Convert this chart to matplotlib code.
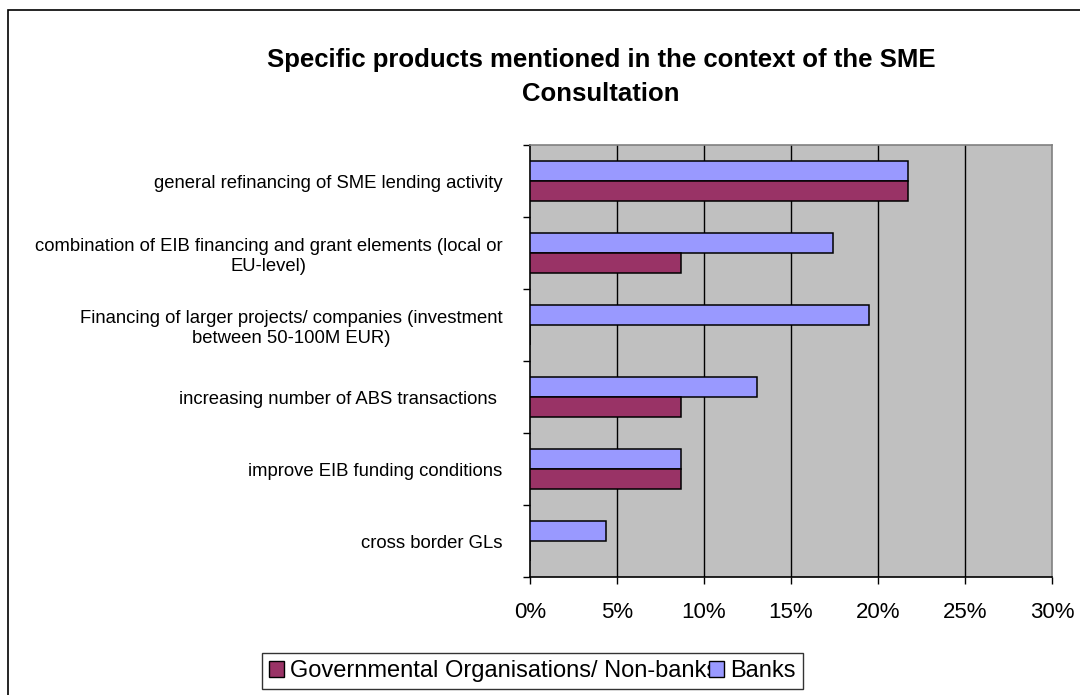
import matplotlib.pyplot as plt
from matplotlib.patches import Rectangle, Patch

plt.rcParams['font.family'] = ['Liberation Sans', 'DejaVu Sans']

# Survey answers, share of respondents per product (top to bottom)
products = [
    "general refinancing of SME lending activity",
    "combination of EIB financing and grant elements (local or\nEU-level)",
    "Financing of larger projects/ companies (investment\nbetween 50-100M EUR)",
    "increasing number of ABS transactions ",
    "improve EIB funding conditions",
    "cross border GLs",
]
banks = [21.74, 17.39, 19.5, 13.04, 8.70, 4.35]
gov_nonbanks = [21.74, 8.70, 0.0, 8.70, 8.70, 0.0]
x_ticks = [0, 5, 10, 15, 20, 25, 30]

banks_color = '#9999FF'
gov_color = '#993366'

fig = plt.figure(figsize=(10.8, 6.95), dpi=100)
ax = fig.add_axes([530 / 1080, 1 - 577 / 695, 522 / 1080, 432 / 695])
ax.set_facecolor('#C0C0C0')

n = len(products)
ypos = [n - 1 - i for i in range(n)]
h = 20 / 72

ax.barh([y + h / 2 for y in ypos], banks, height=h, color=banks_color,
        edgecolor='black', linewidth=1.1, zorder=3)
ax.barh([y - h / 2 for y in ypos], gov_nonbanks, height=h, color=gov_color,
        edgecolor='black', linewidth=1.1, zorder=3)

ax.set_xlim(0, 30)
ax.set_ylim(-0.5, n - 0.5)

# x axis: percent ticks, vertical gridlines
ax.set_xticks(x_ticks)
ax.set_xticklabels([f"{t}%" for t in x_ticks], fontsize=16)
ax.tick_params(axis='x', direction='out', length=5, width=1, pad=13)
for t in x_ticks[1:-1]:
    ax.axvline(t, color='black', lw=1, zorder=1)

# y axis: tick marks on category boundaries, labels at category centres
ax.set_yticks([k - 0.5 for k in range(n + 1)])
ax.set_yticklabels([])
ax.tick_params(axis='y', which='major', direction='out', length=5, width=1)
ax.set_yticks(ypos, minor=True)
ax.set_yticklabels(products, minor=True, fontsize=13.3)
ax.tick_params(axis='y', which='minor', length=0, pad=20)
for lbl in ax.get_yticklabels(minor=True):
    lbl.set_multialignment('center')
    lbl.set_linespacing(1.25)

for side in ['top', 'right']:
    ax.spines[side].set_color('#808080')
for side in ['left', 'bottom']:
    ax.spines[side].set_color('black')
for sp in ax.spines.values():
    sp.set_linewidth(1.2)

fig.text(601 / 1080, 1 - 77 / 695,
         "Specific products mentioned in the context of the SME\nConsultation",
         ha='center', va='center', fontsize=18.5, fontweight='bold', linespacing=1.55)

# legend below the chart
handles = [Patch(facecolor=gov_color, edgecolor='black', lw=1),
           Patch(facecolor=banks_color, edgecolor='black', lw=1)]
leg = fig.legend(handles, ["Governmental Organisations/ Non-banks", "Banks"],
                 ncol=2, loc='upper left', bbox_to_anchor=(262 / 1080, 1 - 653 / 695),
                 fontsize=17, frameon=True, fancybox=False, edgecolor='black',
                 handlelength=0.65, handleheight=0.65, handletextpad=0.25,
                 columnspacing=-0.4, borderpad=0.3, borderaxespad=0)
leg.get_frame().set_linewidth(1)

# outer chart border
fig.patches.append(Rectangle((8 / 1080, -0.1), 1.2, 1 - 10 / 695 + 0.1,
                             transform=fig.transFigure, fill=False,
                             edgecolor='black', lw=1.2))

fig.savefig('out.png', dpi=100)
